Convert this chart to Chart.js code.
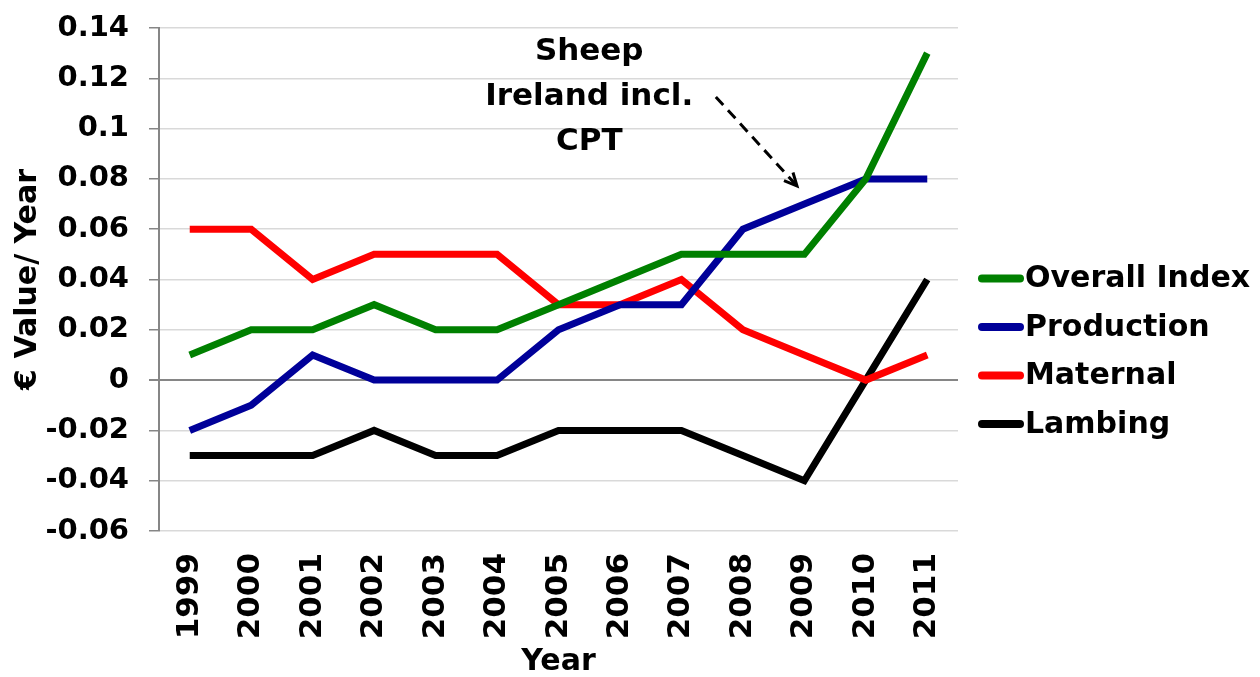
<!DOCTYPE html>
<html>
<head>
<meta charset="utf-8">
<script src="https://cdn.jsdelivr.net/npm/chart.js@4.4.1/dist/chart.umd.min.js"></script>
<style>
    html, body { margin: 0; padding: 0; background: #fff; }
    #wrap { width: 1260px; height: 677px; }
</style>
</head>
<body>
<div id="wrap"><canvas id="chart"></canvas></div>
<script>
const years = ["1999", "2000", "2001", "2002", "2003", "2004", "2005", "2006", "2007", "2008", "2009", "2010", "2011"]
const overallIndex = [0.01, 0.02, 0.02, 0.03, 0.02, 0.02, 0.03, 0.04, 0.05, 0.05, 0.05, 0.08, 0.13]
const production = [-0.02, -0.01, 0.01, 0, 0, 0, 0.02, 0.03, 0.03, 0.06, 0.07, 0.08, 0.08]
const maternal = [0.06, 0.06, 0.04, 0.05, 0.05, 0.05, 0.03, 0.03, 0.04, 0.02, 0.01, 0, 0.01]
const lambing = [-0.03, -0.03, -0.03, -0.02, -0.03, -0.03, -0.02, -0.02, -0.02, -0.03, -0.04, 0, 0.04]
const noteLines = ["Sheep", "Ireland incl.", "CPT"]

const FONT = "'DejaVu Sans', Verdana, sans-serif"

// legend drawn by hand so the short thick line sits right against the text
const sideLegend = {
    id: "sideLegend",
    afterDraw(chart) {
        const ctx = chart.ctx
        const area = chart.chartArea
        const y0 = chart.scales.y.getPixelForValue(0.04)
        const step = 48.5
        ctx.save()
        ctx.font = "bold 30px " + FONT
        ctx.textBaseline = "middle"
        ctx.textAlign = "left"
        chart.data.datasets.forEach((ds, i) => {
            const y = y0 - 1 + i * step
            const x = area.right + 24
            ctx.strokeStyle = ds.borderColor
            ctx.lineWidth = 8
            ctx.lineCap = "round"
            ctx.beginPath()
            ctx.moveTo(x, y)
            ctx.lineTo(x + 38, y)
            ctx.stroke()
            ctx.fillStyle = "#000"
            ctx.fillText(ds.label, x + 43, y + 1)
        })
        ctx.restore()
    }
}

const note = {
    id: "note",
    afterDraw(chart) {
        const ctx = chart.ctx
        const xs = chart.scales.x
        const ys = chart.scales.y
        ctx.save()
        ctx.font = "bold 31px " + FONT
        ctx.fillStyle = "#000"
        ctx.textAlign = "center"
        ctx.textBaseline = "middle"
        const cx = xs.getPixelForValue(6.5)
        noteLines.forEach((t, i) => {
            ctx.fillText(t, cx, ys.getPixelForValue(0.1305) + i * 45)
        })
        // dashed arrow
        const x1 = xs.getPixelForValue(8.56), y1 = ys.getPixelForValue(0.1126)
        const x2 = xs.getPixelForValue(9.88), y2 = ys.getPixelForValue(0.0772)
        ctx.strokeStyle = "#000"
        ctx.lineWidth = 3
        ctx.setLineDash([11, 7])
        ctx.beginPath()
        ctx.moveTo(x1, y1)
        ctx.lineTo(x2, y2)
        ctx.stroke()
        ctx.setLineDash([])
        const a = Math.atan2(y2 - y1, x2 - x1)
        ctx.beginPath()
        ctx.moveTo(x2 - 14 * Math.cos(a - 0.45), y2 - 14 * Math.sin(a - 0.45))
        ctx.lineTo(x2, y2)
        ctx.lineTo(x2 - 14 * Math.cos(a + 0.45), y2 - 14 * Math.sin(a + 0.45))
        ctx.stroke()
        ctx.restore()
    }
}

const lineStyle = { borderWidth: 7, pointRadius: 0, tension: 0, fill: false, borderJoinStyle: "miter" }

new Chart(document.getElementById("chart").getContext("2d"), {
    type: "line",
    data: {
        labels: years,
        datasets: [
            { label: "Overall Index", data: overallIndex, borderColor: "rgb(0, 128, 0)", ...lineStyle },
            { label: "Production", data: production, borderColor: "rgb(0, 0, 153)", ...lineStyle },
            { label: "Maternal", data: maternal, borderColor: "rgb(255, 0, 0)", ...lineStyle },
            { label: "Lambing", data: lambing, borderColor: "rgb(0, 0, 0)", ...lineStyle }
        ]
    },
    options: {
        responsive: true,
        maintainAspectRatio: false,
        animation: false,
        layout: { padding: { top: 28, right: 302, left: 0, bottom: 0 } },
        plugins: {
            legend: { display: false },
            tooltip: { enabled: false }
        },
        scales: {
            x: {
                offset: true,
                grid: { display: false, drawTicks: false },
                border: { display: false },
                ticks: {
                    color: "#000",
                    font: { family: FONT, size: 31, weight: "bold" },
                    minRotation: 90,
                    maxRotation: 90,
                    padding: 22
                },
                title: {
                    display: true,
                    text: "Year",
                    color: "#000",
                    font: { family: FONT, size: 30, weight: "bold" },
                    padding: { top: 0, bottom: -3 }
                },
                afterFit(scale) { scale.height = 146 }
            },
            y: {
                min: -0.06,
                max: 0.14,
                grid: {
                    color: ctx => ctx.tick && ctx.tick.value === 0 ? "#868686" : "#d9d9d9",
                    lineWidth: ctx => ctx.tick && ctx.tick.value === 0 ? 2 : 1.5,
                    tickColor: "#868686",
                    tickLength: 10
                },
                border: { color: "#868686", width: 2 },
                ticks: {
                    stepSize: 0.02,
                    color: "#000",
                    padding: 20,
                    font: { family: FONT, size: 29, weight: "bold", lineHeight: 0.5 },
                    callback: v => String(Number(v.toFixed(2)))
                },
                title: {
                    display: true,
                    text: "€ Value/ Year",
                    color: "#000",
                    font: { family: FONT, size: 30, weight: "bold" },
                    padding: { top: 10, bottom: 0 }
                },
                afterFit(scale) { scale.width = 159 }
            }
        }
    },
    plugins: [sideLegend, note]
})
</script>
</body>
</html>
